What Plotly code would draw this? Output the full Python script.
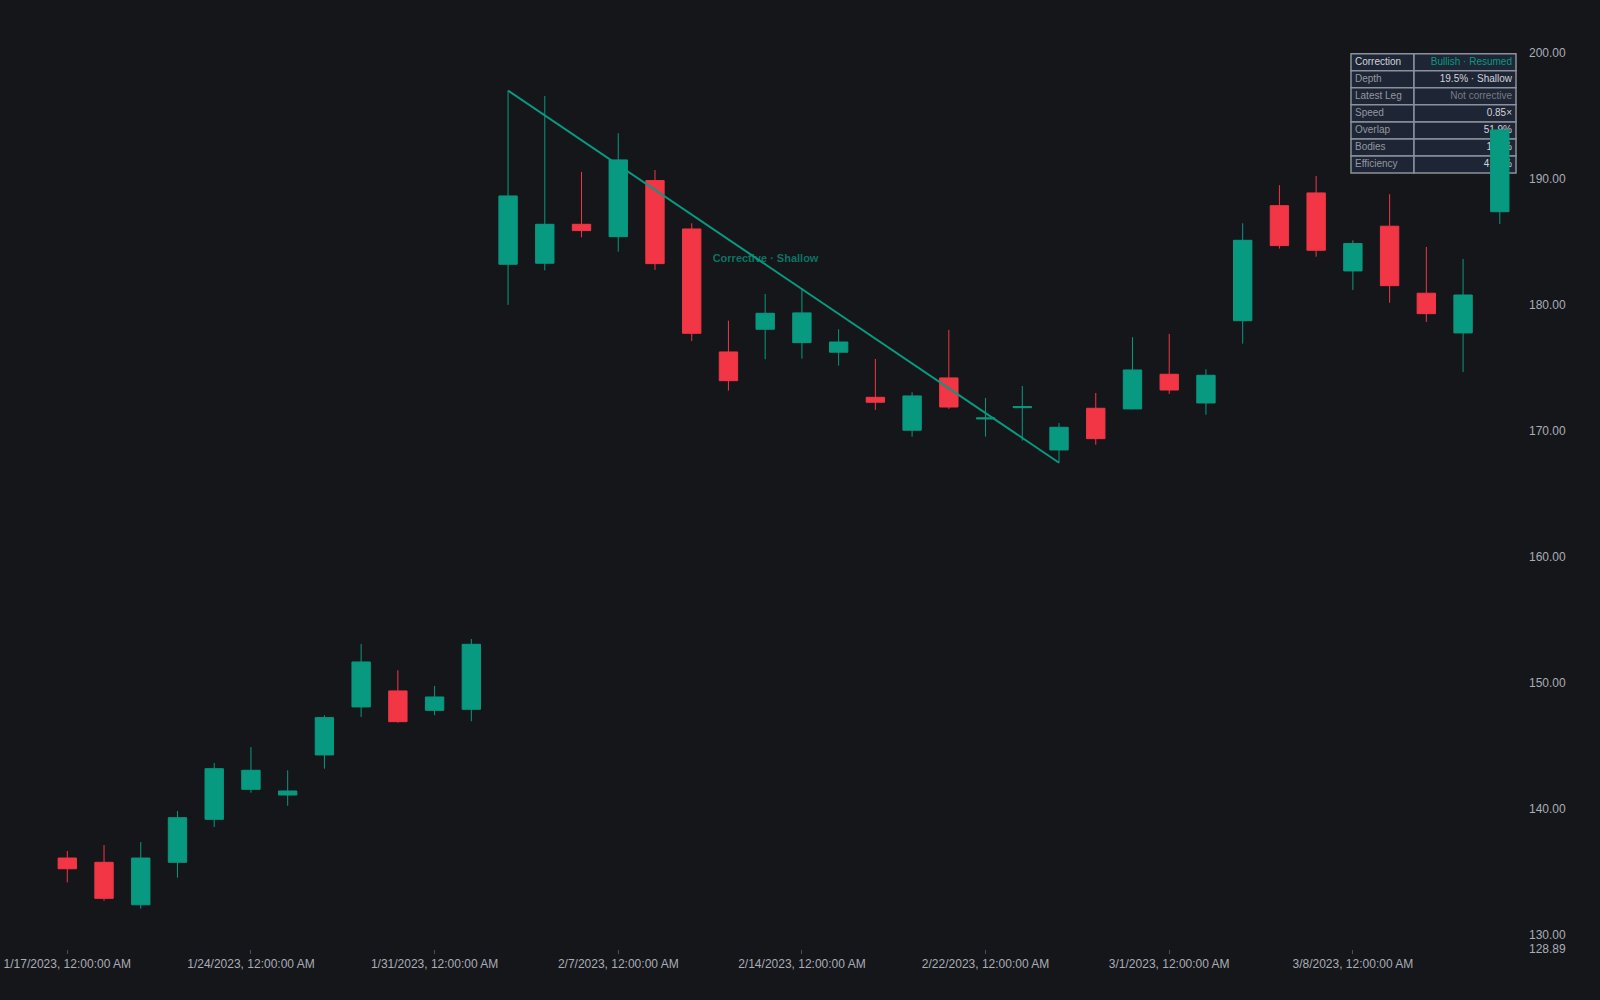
import plotly.graph_objects as go

# Daily bars (trading days only)
dates = ['1/17/2023', '1/18/2023', '1/19/2023', '1/20/2023', '1/23/2023', '1/24/2023', '1/25/2023', '1/26/2023',
         '1/27/2023', '1/30/2023', '1/31/2023', '2/1/2023', '2/2/2023', '2/3/2023', '2/6/2023', '2/7/2023',
         '2/8/2023', '2/9/2023', '2/10/2023', '2/13/2023', '2/14/2023', '2/15/2023', '2/16/2023', '2/17/2023',
         '2/21/2023', '2/22/2023', '2/23/2023', '2/24/2023', '2/27/2023', '2/28/2023', '3/1/2023', '3/2/2023',
         '3/3/2023', '3/6/2023', '3/7/2023', '3/8/2023', '3/9/2023', '3/10/2023', '3/13/2023', '3/14/2023']

opens = [136.11, 135.77, 132.40, 135.77, 139.18, 141.56, 141.11, 144.29, 148.10, 149.37,
         147.83, 147.91, 183.23, 183.31, 186.40, 185.42, 189.87, 186.03, 176.27, 178.07,
         177.01, 176.25, 172.67, 170.06, 174.21, 170.95, 171.85, 168.49, 171.80, 171.75,
         174.50, 172.22, 178.75, 187.88, 188.89, 182.70, 186.25, 180.93, 177.78, 187.40]
highs = [136.67, 137.14, 137.38, 139.84, 143.65, 144.92, 143.07, 147.44, 153.10, 151.01,
         149.76, 153.49, 197.01, 196.59, 190.56, 193.63, 190.71, 186.48, 178.75, 180.87,
         181.33, 178.07, 175.71, 173.07, 178.02, 172.62, 173.57, 170.63, 173.02, 177.44,
         177.70, 174.90, 186.48, 189.50, 190.24, 185.13, 188.79, 184.60, 183.65, 193.89]
lows = [134.18, 132.72, 132.09, 134.55, 138.57, 141.29, 140.26, 143.20, 147.30, 146.85,
        147.44, 146.96, 180.00, 182.75, 185.37, 184.23, 182.78, 177.14, 173.20, 175.69,
        175.74, 175.18, 171.67, 169.55, 171.75, 169.55, 169.23, 167.48, 168.91, 171.72,
        172.94, 171.29, 176.93, 184.47, 183.83, 181.19, 180.18, 178.65, 174.68, 186.43]
closes = [135.26, 132.91, 136.11, 139.31, 143.20, 143.07, 141.43, 147.25, 151.67, 146.93,
          148.89, 153.07, 188.65, 186.40, 185.90, 191.51, 183.28, 177.75, 173.99, 179.34,
          179.37, 177.06, 172.28, 172.78, 171.90, 171.03, 171.93, 170.29, 169.39, 174.84,
          173.25, 174.42, 185.13, 184.71, 184.34, 184.87, 181.53, 179.31, 180.79, 193.89]

# correction leg: swing high bar -> swing low bar
leg_start = 12
leg_end = 27
leg_label = 'Corrective · Shallow'

# x tick labels every 5 bars
tick_idx = [0, 5, 10, 15, 20, 25, 30, 35]
tick_text = [dates[i] + ', 12:00:00 AM' for i in tick_idx]

y_ticks = [128.89, 130, 140, 150, 160, 170, 180, 190, 200]

# info table
table_labels = ['Correction', 'Depth', 'Latest Leg', 'Speed', 'Overlap', 'Bodies', 'Efficiency']
table_values = ['Bullish · Resumed', '19.5% · Shallow', 'Not corrective', '0.85×', '51.9%', '100%', '41.2%']

GREEN = '#089981'
RED = '#f23645'
BG = '#15161a'
AXIS_TXT = '#a9adb6'
FONT = 'Liberation Sans, Arial'

W, H = 1600, 1000
ML, MR, MT, MB = 0, 80, 0, 51
PW, PH = W - ML - MR, H - MT - MB

x = list(range(len(dates)))

fig = go.Figure()

# --- table: lives on a hidden pixel-unit axis pair (x/y), so the price
# subplot (x2/y2, overlaid) paints its candles on top of it
t_left, t_mid, t_right, t_top, row_h = 1351, 1414, 1516, 53.7, 17.05
shapes = []
for r in range(len(table_labels)):
    y0 = t_top + r * row_h
    for a, b in [(t_left, t_mid), (t_mid, t_right)]:
        shapes.append(dict(type='rect', xref='x', yref='y', layer='below',
                           x0=a, x1=b, y0=y0, y1=y0 + row_h,
                           fillcolor='#1e2534', line=dict(color='#8b919c', width=1.5)))

row_y = [t_top + (r + 0.5) * row_h for r in range(len(table_labels))]
label_colors = ['#d1d4dc'] + ['#9598a1'] * 6
value_colors = [GREEN, '#d1d4dc', '#787b86', '#d1d4dc', '#d1d4dc', '#d1d4dc', '#d1d4dc']

fig.add_trace(go.Scatter(x=[t_left + 4] * len(table_labels), y=row_y, mode='text',
                         text=table_labels, textposition='middle right',
                         textfont=dict(size=10, color=label_colors, family=FONT),
                         hoverinfo='skip', xaxis='x', yaxis='y'))
fig.add_trace(go.Scatter(x=[t_right - 4] * len(table_values), y=row_y, mode='text',
                         text=table_values, textposition='middle left',
                         textfont=dict(size=10, color=value_colors, family=FONT),
                         hoverinfo='skip', xaxis='x', yaxis='y'))

# --- price subplot
fig.add_trace(go.Candlestick(x=x, open=opens, high=highs, low=lows, close=closes,
                             increasing=dict(line=dict(color=GREEN, width=1), fillcolor=GREEN),
                             decreasing=dict(line=dict(color=RED, width=1), fillcolor=RED),
                             whiskerwidth=0, xaxis='x2', yaxis='y2'))

# leg label sits just above the middle of the leg line
mid_x = (leg_start + leg_end) / 2 - 0.49
mid_y = (highs[leg_start] + lows[leg_end]) / 2 + 1.4
fig.add_trace(go.Scatter(x=[mid_x], y=[mid_y], mode='text', text=['<b>' + leg_label + '</b>'],
                         textposition='middle center',
                         textfont=dict(size=11, color='rgba(8,153,129,0.72)', family=FONT),
                         hoverinfo='skip', xaxis='x2', yaxis='y2'))

fig.add_trace(go.Scatter(x=[leg_start, leg_end], y=[highs[leg_start], lows[leg_end]], mode='lines',
                         line=dict(color=GREEN, width=2), hoverinfo='skip', xaxis='x2', yaxis='y2'))

fig.update_layout(width=W, height=H, margin=dict(l=ML, r=MR, t=MT, b=MB),
                  paper_bgcolor=BG, plot_bgcolor=BG, showlegend=False,
                  boxgap=0.5, boxgroupgap=0,
                  shapes=shapes,
                  font=dict(family=FONT, color=AXIS_TXT, size=12),
                  xaxis=dict(range=[0, PW], visible=False, fixedrange=True),
                  yaxis=dict(range=[PH, 0], visible=False, fixedrange=True),
                  xaxis2=dict(overlaying='x', side='bottom', range=[-1.832, 39.55],
                              rangeslider=dict(visible=False), showgrid=False, zeroline=False,
                              showline=False, tickmode='array', tickvals=tick_idx, ticktext=tick_text,
                              ticks='outside', ticklen=4, tickcolor='#4a4e57',
                              tickfont=dict(size=12, color=AXIS_TXT)),
                  yaxis2=dict(overlaying='y', side='right', range=[128.89, 204.2],
                              showgrid=False, zeroline=False, showline=False,
                              tickmode='array', tickvals=y_ticks, ticktext=['%.2f' % v for v in y_ticks],
                              ticks='', ticklabelstandoff=8, tickfont=dict(size=12, color=AXIS_TXT)))

# drop the default page margin so the chart fills the window
fig.write_html("out.html", config={'displayModeBar': False},
               post_script="document.body.style.margin='0';")
